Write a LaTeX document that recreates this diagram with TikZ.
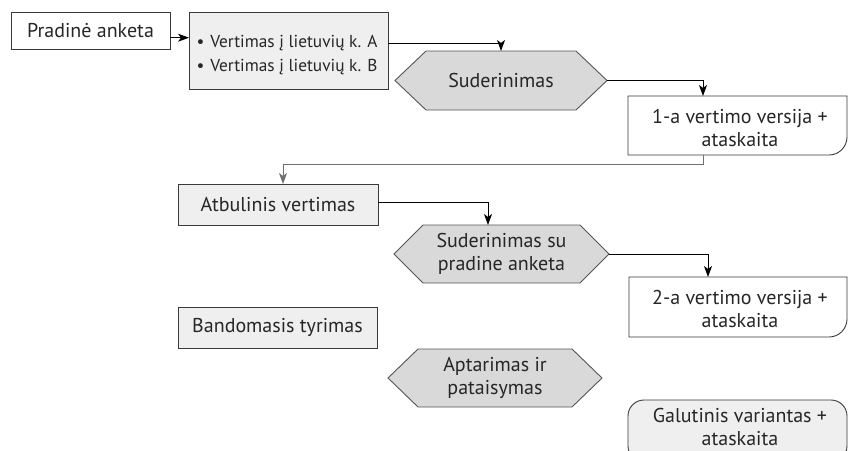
\documentclass[tikz,border=0pt]{standalone}
\usepackage{fontspec}
\setmainfont{PT Sans}
\usetikzlibrary{arrows.meta,backgrounds,calc}
\definecolor{boxfill}{HTML}{EFEFEF}
\definecolor{hexfill}{HTML}{D9D9D9}
\definecolor{edge}{HTML}{3A3A3A}
\definecolor{hexedge}{HTML}{555555}
\definecolor{retline}{HTML}{707070}
\newcommand\hexpath[2]{\filldraw[hexsty] (#1.west) -- ([xshift=#2]#1.north west) -- ([xshift=-#2]#1.north east) -- (#1.east) -- ([xshift=-#2]#1.south east) -- ([xshift=#2]#1.south west) -- cycle;}
\begin{document}
\begin{tikzpicture}[x=1pt,y=-1pt,
  txt/.style={font=\fontsize{20}{23}\selectfont, text=black!85, align=center},
  plainbox/.style={draw=edge, line width=0.9pt, fill=white, inner sep=0pt, outer sep=0pt, txt},
  graybox/.style={plainbox, fill=boxfill},
  hexnode/.style={inner sep=0pt, outer sep=0pt, txt},
  hexsty/.style={draw=hexedge, line width=0.9pt, fill=hexfill},
  conn/.style={draw=black, line width=0.9pt, -{Stealth[length=11pt,width=8pt,inset=3pt]}},
  retconn/.style={conn, draw=retline}
]
\useasboundingbox (0,0) rectangle (849,450);

% boxes
\node[plainbox, minimum width=159pt, minimum height=37pt] (prad) at (90.5,30.5) {Pradinė anketa};
\node[graybox, minimum width=199pt, minimum height=77pt] (vert) at (288.5,50.5) {};
\node[txt, align=left, anchor=west, font=\fontsize{17.3}{24}\selectfont] (vertt) at (193,55)
  {\textbullet\hspace{6pt}Vertimas į lietuvių k. A\\ \textbullet\hspace{6pt}Vertimas į lietuvių k. B};

\node[hexnode, minimum width=212pt, minimum height=59pt] (s1) at (501,80.5) {Suderinimas};
\node[hexnode, minimum width=215pt, minimum height=58pt] (s2) at (501.5,254) {Suderinimas su\\pradine anketa};
\node[hexnode, minimum width=214pt, minimum height=58pt] (s3) at (495,378) {Aptarimas ir\\pataisymas};

\node[inner sep=0pt, outer sep=0pt, minimum width=219pt, minimum height=59pt] (v1) at (737.5,125.5) {};
\node[txt] (v1t) at (740,128) {1-a vertimo versija +\\ataskaita};
\node[inner sep=0pt, outer sep=0pt, minimum width=218pt, minimum height=60pt] (v2) at (738,307) {};
\node[txt] (v2t) at (740,308.5) {2-a vertimo versija +\\ataskaita};

\node[graybox, minimum width=200pt, minimum height=41pt] (atb) at (278,204.5) {Atbulinis vertimas};
\node[graybox, minimum width=199pt, minimum height=41pt] (band) at (277.5,327.5) {Bandomasis tyrimas};

\node[graybox, rounded corners=16pt, minimum width=219pt, minimum height=62pt] (gal) at (737.5,431) {};
\node[txt] (galt) at (740,427) {Galutinis variantas +\\ataskaita};

\begin{scope}[on background layer]
  \fill[white] (0,0) rectangle (849,450);
  \hexpath{s1}{31pt}
  \hexpath{s2}{29pt}
  \hexpath{s3}{30pt}
  \filldraw[draw=edge, line width=0.9pt, fill=white] (v1.south west) -- (v1.north west) -- (v1.north east) -- ([yshift=18pt]v1.south east) arc[start angle=0, end angle=-90, radius=18pt] -- cycle;
  \filldraw[draw=edge, line width=0.9pt, fill=white] (v2.south west) -- (v2.north west) -- (v2.north east) -- ([yshift=18pt]v2.south east) arc[start angle=0, end angle=-90, radius=18pt] -- cycle;
\end{scope}

% connectors
\coordinate (c1) at ($(prad.east)+(0,7.2)$);
\draw[conn] (c1) -- (c1 -| vert.west);
\draw[conn] ($(vert.east)+(0,-7.5)$) -| (s1.north);
\draw[conn] (s1.east) -| ($(v1.north west)+(75,0)$);
\draw[retconn] ($(v1.south west)+(75,0)$) -- ++(0,9) -| ($(atb.north west)+(105,0)$);
\draw[conn] ($(atb.east)+(0,-2.5)$) -| ($(s2.north west)+(94,0)$);
\draw[conn] (s2.east) -| ($(v2.north west)+(79,0)$);
\end{tikzpicture}
\end{document}
